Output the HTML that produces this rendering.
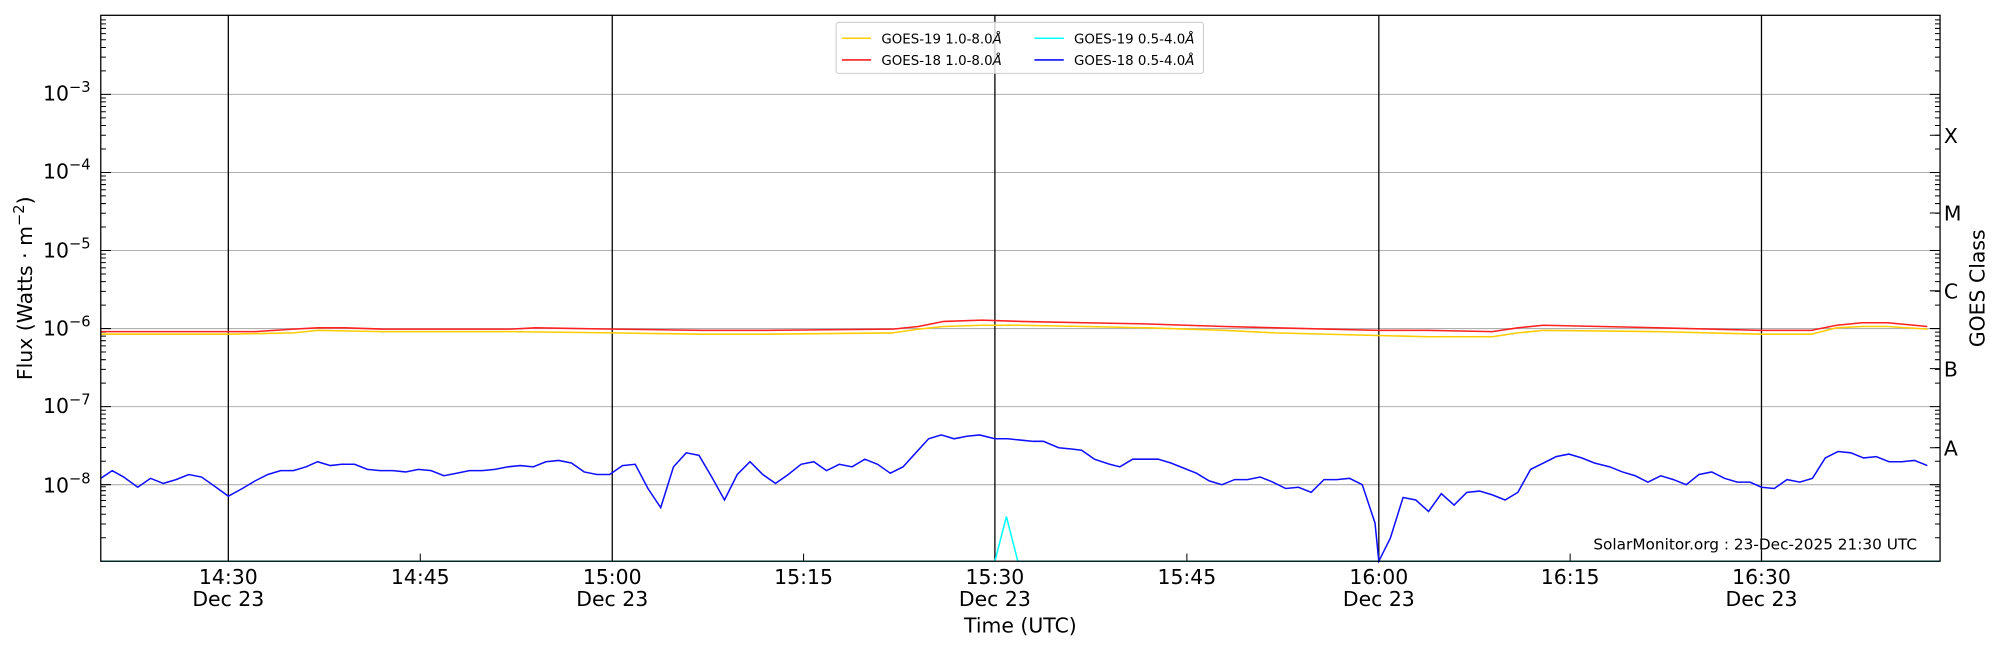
<!DOCTYPE html>
<html><head><meta charset="utf-8"><style>
html,body{margin:0;padding:0;background:#fff;}
svg{display:block;}
text{font-family:"DejaVu Sans","Liberation Sans",sans-serif;fill:#000;}
</style></head><body>
<svg width="2000" height="650" viewBox="0 0 1568 509.6" xmlns="http://www.w3.org/2000/svg">
<defs>
<g id="dec" stroke="#000" stroke-width="0.8">
<path d="M79 0h8M1521 0h-8M79 -18.4h4M79 -29.2h4M79 -36.8h4M79 -42.8h4M79 -47.6h4M79 -51.7h4M79 -55.3h4M79 -58.4h4M1521 -18.4h-4M1521 -29.2h-4M1521 -36.8h-4M1521 -42.8h-4M1521 -47.6h-4M1521 -51.7h-4M1521 -55.3h-4M1521 -58.4h-4"/>
</g>
</defs>
<!-- grid -->
<g stroke="#b0b0b0" stroke-width="0.8">
<path d="M79 74H1521M79 135.2H1521M79 196.4H1521M79 257.6H1521M79 318.8H1521M79 380H1521"/>
</g>
<!-- vertical lines -->
<g stroke="#000" stroke-width="1">
<path d="M179 12V440M480 12V440M780 12V440M1081 12V440M1381 12V440"/>
<path d="M329.5 440v-6M630 440v-6M930.5 440v-6M1231 440v-6" stroke-width="0.8"/>
</g>
<!-- ticks -->
<use href="#dec" y="440"/><use href="#dec" y="380"/><use href="#dec" y="318.8"/><use href="#dec" y="257.6"/><use href="#dec" y="196.4"/><use href="#dec" y="135.2"/><use href="#dec" y="74"/>
<g stroke="#000" stroke-width="0.8"><path d="M1521 106h-8M1521 167h-8M1521 228h-8M1521 289h-8M1521 351h-8"/></g>
<!-- series -->
<polyline fill="none" stroke="#ffcc00" stroke-width="1.2" points="79,262 179,262 230,261 249,259 300,260 400,260 480,261 550,262 600,262 700,261 720,258 740,256 770,255 800,255 850,256 900,257 960,259 1000,261 1080,263 1120,264 1170,264 1190,261 1210,259 1300,260 1381,262 1420,262 1440,257 1460,256 1480,256 1511,258"/>
<polyline fill="none" stroke="#ff2020" stroke-width="1.2" points="79,260 179,260 200,260 230,258 249,257 270,257 300,258 400,258 420,257 480,258 550,259 600,259 700,258 720,256 740,252 770,251 800,252 850,253 900,254 960,256 1000,257 1080,259 1120,259 1170,260 1190,257 1210,255 1300,257 1381,259 1420,259 1440,255 1460,253 1480,253 1511,256"/>
<polyline fill="none" stroke="#00ffff" stroke-width="1.2" points="79,440 780,440 789,405 798,440 1521,440"/>
<polyline fill="none" stroke="#1010ff" stroke-width="1.2" points="79,375 88,369 97,374 108,382 118,375 128,379 138,376 148,372 158,374 168,381 179,389 190,383 200,377 210,372 220,369 230,369 240,366 249,362 259,365 268,364 278,364 288,368 298,369 308,369 318,370 328,368 338,369 348,373 358,371 368,369 378,369 388,368 398,366 408,365 418,366 428,362 438,361 448,363 458,370 468,372 478,372 488,365 498,364 508,383 518,398 528,366 538,355 548,357 558,374 568,392 578,372 588,362 598,372 608,379 618,372 628,364 638,362 648,369 658,364 668,366 678,360 688,364 698,371 708,366 718,355 728,344 738,341 748,344 758,342 768,341 780,344 790,344 800,345 810,346 818,346 830,351 840,352 848,353 858,360 870,364 878,366 888,360 898,360 908,360 918,363 928,367 938,371 948,377 958,380 968,376 978,376 988,374 998,378 1008,383 1018,382 1028,386 1038,376 1048,376 1058,375 1068,380 1078,410 1081,440 1090,422 1100,390 1110,392 1120,401 1130,387 1140,396 1150,386 1160,385 1170,388 1180,392 1190,386 1200,368 1210,363 1220,358 1230,356 1240,359 1250,363 1262,366 1272,370 1282,373 1292,378 1302,373 1312,376 1322,380 1332,372 1342,370 1352,375 1362,378 1372,378 1381,382 1391,383 1401,376 1411,378 1421,375 1431,359 1441,354 1451,355 1461,359 1471,358 1481,362 1491,362 1501,361 1511,365"/>
<!-- frame -->
<rect x="79" y="12" width="1442" height="428" fill="none" stroke="#000" stroke-width="1"/>
<!-- y labels -->
<g font-size="16" text-anchor="end">
<text x="71" y="79">10<tspan font-size="11.5" dy="-7">−3</tspan></text>
<text x="71" y="140">10<tspan font-size="11.5" dy="-7">−4</tspan></text>
<text x="71" y="202">10<tspan font-size="11.5" dy="-7">−5</tspan></text>
<text x="71" y="263">10<tspan font-size="11.5" dy="-7">−6</tspan></text>
<text x="71" y="324">10<tspan font-size="11.5" dy="-7">−7</tspan></text>
<text x="71" y="386">10<tspan font-size="11.5" dy="-7">−8</tspan></text>
</g>
<text transform="translate(25,226) rotate(-90)" font-size="16" text-anchor="middle">Flux (Watts · m<tspan font-size="11.5" dy="-6">−2</tspan><tspan dy="6">)</tspan></text>
<!-- right labels -->
<g font-size="16">
<text x="1524" y="112">X</text><text x="1524" y="173">M</text><text x="1524" y="234">C</text><text x="1524" y="295">B</text><text x="1524" y="357">A</text>
</g>
<text transform="translate(1556,226) rotate(-90)" font-size="16" text-anchor="middle">GOES Class</text>
<!-- x labels -->
<g font-size="16" text-anchor="middle">
<text x="179" y="458">14:30</text><text x="179" y="475">Dec 23</text>
<text x="329.5" y="458">14:45</text>
<text x="480" y="458">15:00</text><text x="480" y="475">Dec 23</text>
<text x="630" y="458">15:15</text>
<text x="780" y="458">15:30</text><text x="780" y="475">Dec 23</text>
<text x="930.5" y="458">15:45</text>
<text x="1081" y="458">16:00</text><text x="1081" y="475">Dec 23</text>
<text x="1231" y="458">16:15</text>
<text x="1381" y="458">16:30</text><text x="1381" y="475">Dec 23</text>
<text x="800" y="496">Time (UTC)</text>
</g>
<text x="1503" y="431" font-size="12" text-anchor="end">SolarMonitor.org : 23-Dec-2025 21:30 UTC</text>
<!-- legend -->
<rect x="655.5" y="17.5" width="288" height="40" rx="2" fill="#fff" fill-opacity="0.8" stroke="#ccc" stroke-width="0.8"/>
<g stroke-width="1.2">
<line x1="660" y1="30" x2="683" y2="30" stroke="#ffcc00"/>
<line x1="660" y1="47" x2="683" y2="47" stroke="#ff2020"/>
<line x1="811" y1="30" x2="834" y2="30" stroke="#00ffff"/>
<line x1="811" y1="47" x2="834" y2="47" stroke="#1010ff"/>
</g>
<g font-size="10.5">
<text x="691" y="34">GOES-19 1.0-8.0<tspan font-style="italic">Å</tspan></text>
<text x="691" y="51">GOES-18 1.0-8.0<tspan font-style="italic">Å</tspan></text>
<text x="842" y="34">GOES-19 0.5-4.0<tspan font-style="italic">Å</tspan></text>
<text x="842" y="51">GOES-18 0.5-4.0<tspan font-style="italic">Å</tspan></text>
</g>
</svg>
</body></html>
